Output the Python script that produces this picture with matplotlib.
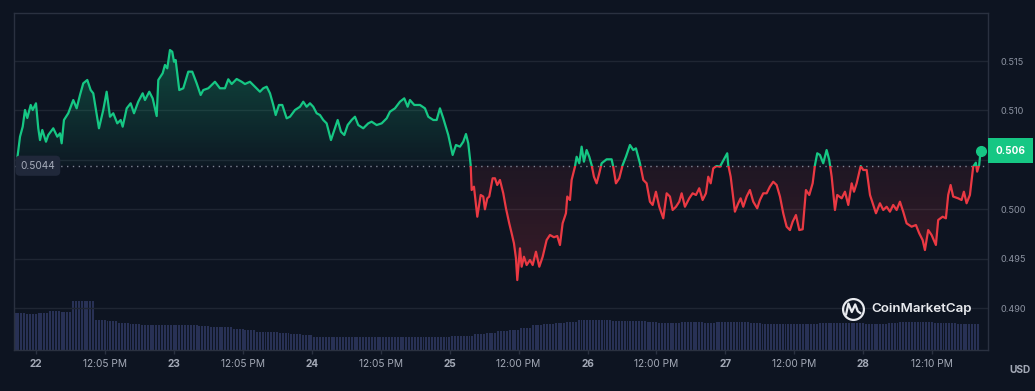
import matplotlib
matplotlib.use("Agg")
import matplotlib.pyplot as plt
import numpy as np
from matplotlib.patches import PathPatch, Rectangle
from matplotlib.path import Path
from matplotlib.colors import LinearSegmentedColormap

plt.rcParams['font.family'] = ['Inter', 'DejaVu Sans']

# hours since day 22 00:00
hours = [-3.25, -2.78, -2.31, -1.91, -1.51, -0.92, -0.57, 0.0, 0.40, 0.70, 1.10, 1.74, 2.14, 3.01, 3.71,
         4.18, 4.47, 4.87, 5.62, 6.49, 7.08, 7.66, 8.23, 8.93, 9.52, 9.97, 10.44, 10.96, 11.71, 12.30,
         12.88, 13.45, 14.15, 14.74, 15.09, 15.79, 16.48, 17.06, 17.80, 18.57, 18.97, 19.72, 20.31, 21.01,
         21.29, 22.05, 22.45, 22.85, 23.32, 23.72, 24.02, 24.31, 24.94, 25.64, 26.51, 27.20, 27.97, 28.66,
         29.12, 29.99, 30.28, 31.15, 32.02, 32.89, 33.47, 34.06, 34.93, 35.80, 36.37, 37.24, 38.11, 38.98,
         39.56, 40.15, 40.73, 41.30, 41.72, 42.29, 42.87, 43.63, 44.21, 45.08, 45.95, 46.52, 47.11, 47.69,
         48.26, 48.85, 49.43, 50.00, 50.59, 51.34, 51.92, 52.51, 53.08, 53.66, 54.25, 54.94, 55.52, 56.09,
         56.96, 57.83, 58.42, 59.29, 60.17, 61.04, 61.61, 62.48, 63.35, 64.10, 64.69, 65.09, 65.84, 66.83,
         67.70, 68.28, 69.15, 69.74, 70.31, 70.89, 71.76, 72.52, 73.10, 73.79, 74.37, 74.84, 75.24, 75.66,
         75.83, 76.23, 76.81, 77.40, 77.85, 78.14, 78.55, 78.89, 79.48, 79.88, 80.28, 80.75, 81.33, 81.80,
         82.37, 82.79, 83.19, 83.54, 83.77, 84.24, 84.53, 84.93, 85.40, 85.98, 86.45, 87.02, 87.60, 88.19,
         88.88, 89.46, 90.15, 90.73, 91.20, 91.66, 92.24, 92.47, 92.94, 93.23, 93.81, 94.10, 94.56, 94.97,
         95.37, 95.84, 96.30, 96.71, 97.11, 97.58, 98.04, 98.45, 99.32, 100.19, 100.47, 100.94, 101.52,
         102.11, 102.68, 103.38, 103.95, 104.42, 105.12, 105.70, 106.28, 106.86, 107.33, 107.90, 108.48,
         109.18, 109.77, 110.34, 110.81, 111.39, 111.96, 112.38, 112.95, 113.70, 114.29, 114.87, 115.44,
         116.03, 116.61, 117.01, 117.43, 117.88, 118.47, 119.04, 119.51, 120.31, 120.49, 120.91, 121.65,
         122.23, 122.64, 123.10, 123.69, 124.26, 124.84, 125.53, 126.00, 126.58, 127.17, 127.74, 128.32,
         128.91, 129.49, 130.06, 130.65, 131.23, 131.70, 132.27, 132.85, 133.44, 134.01, 134.59, 135.18,
         135.58, 135.98, 136.45, 137.02, 137.61, 138.07, 138.49, 139.06, 139.46, 140.23, 140.80, 141.38,
         141.97, 142.37, 142.84, 143.54, 143.99, 144.58, 145.16, 145.73, 146.20, 146.89, 147.47, 148.06,
         148.63, 149.20, 149.79, 150.37, 150.94, 151.53, 152.40, 153.15, 153.73, 154.32, 154.72, 155.29,
         155.88, 156.63, 157.03, 157.80, 158.37, 158.77, 159.19, 159.64, 160.51, 161.10, 161.50, 161.97,
         162.55, 163.12, 163.58, 163.81, 164.16, 164.41]

price = [0.50515, 0.50734, 0.50835, 0.51004, 0.50923, 0.51055, 0.51004, 0.51072, 0.50819, 0.50700, 0.50802,
         0.50683, 0.50751, 0.50819, 0.50734, 0.50768, 0.50667, 0.50903, 0.50971, 0.51105, 0.51021, 0.51156,
         0.51274, 0.51308, 0.51206, 0.51173, 0.51004, 0.50819, 0.51004, 0.51189, 0.50936, 0.50971, 0.50869,
         0.50903, 0.50835, 0.51021, 0.51072, 0.50971, 0.51088, 0.51173, 0.51105, 0.51189, 0.51122, 0.50943,
         0.51308, 0.51376, 0.51460, 0.51426, 0.51611, 0.51594, 0.51493, 0.51510, 0.51206, 0.51224, 0.51392,
         0.51392, 0.51274, 0.51156, 0.51206, 0.51224, 0.51240, 0.51290, 0.51224, 0.51224, 0.51315, 0.51267,
         0.51318, 0.51290, 0.51267, 0.51290, 0.51240, 0.51189, 0.51224, 0.51240, 0.51173, 0.51055, 0.50953,
         0.51055, 0.51055, 0.50920, 0.50936, 0.51004, 0.51037, 0.51088, 0.51037, 0.51072, 0.51037, 0.50971,
         0.50953, 0.50903, 0.50869, 0.50700, 0.50802, 0.50903, 0.50784, 0.50751, 0.50852, 0.50903, 0.50936,
         0.50852, 0.50819, 0.50869, 0.50886, 0.50852, 0.50869, 0.50920, 0.50987, 0.51021, 0.51088, 0.51122,
         0.51037, 0.51105, 0.51055, 0.51055, 0.51021, 0.50936, 0.50903, 0.50903, 0.51021, 0.50920, 0.50751,
         0.50549, 0.50650, 0.50633, 0.50683, 0.50761, 0.50667, 0.50447, 0.50194, 0.50228, 0.49924, 0.50144,
         0.50128, 0.49999, 0.50110, 0.50128, 0.50313, 0.50313, 0.50245, 0.50296, 0.50161, 0.50009, 0.49857,
         0.49756, 0.49655, 0.49503, 0.49283, 0.49604, 0.49418, 0.49519, 0.49435, 0.49486, 0.49435, 0.49570,
         0.49418, 0.49519, 0.49688, 0.49739, 0.49716, 0.49729, 0.49638, 0.49857, 0.49959, 0.50128, 0.50093,
         0.50296, 0.50430, 0.50531, 0.50465, 0.50633, 0.50481, 0.50599, 0.50531, 0.50447, 0.50329, 0.50262,
         0.50363, 0.50465, 0.50505, 0.50505, 0.50430, 0.50262, 0.50313, 0.50447, 0.50531, 0.50650, 0.50599,
         0.50616, 0.50465, 0.50296, 0.50262, 0.50076, 0.50043, 0.50177, 0.50025, 0.49908, 0.50161, 0.50128,
         0.49992, 0.50025, 0.50076, 0.50161, 0.50025, 0.50110, 0.50161, 0.50144, 0.50212, 0.50093, 0.50161,
         0.50329, 0.50262, 0.50414, 0.50437, 0.50430, 0.50481, 0.50566, 0.50447, 0.50329, 0.49975, 0.50060,
         0.50110, 0.50025, 0.50128, 0.50194, 0.50076, 0.50009, 0.50093, 0.50161, 0.50161, 0.50228, 0.50278,
         0.50245, 0.50128, 0.49959, 0.49823, 0.49789, 0.49873, 0.49941, 0.49789, 0.49797, 0.50194, 0.50144,
         0.50262, 0.50447, 0.50566, 0.50549, 0.50465, 0.50599, 0.50498, 0.50329, 0.49992, 0.50144, 0.50110,
         0.50177, 0.50043, 0.50262, 0.50177, 0.50262, 0.50437, 0.50397, 0.50397, 0.50144, 0.50043, 0.49959,
         0.50060, 0.49992, 0.50025, 0.49975, 0.50043, 0.49992, 0.50076, 0.49975, 0.49857, 0.49823, 0.49840,
         0.49756, 0.49688, 0.49587, 0.49789, 0.49739, 0.49638, 0.49891, 0.49924, 0.49908, 0.50144, 0.50245,
         0.50128, 0.50110, 0.50093, 0.50177, 0.50060, 0.50144, 0.50430, 0.50471, 0.50380, 0.50447, 0.50592]

baseline = 0.5044

# volume, 2-hour buckets starting at vol_start (relative units)
vol_start = -3.8
vol = [36.6, 35.5, 36.0, 38.0, 37.5, 48.6, 48.0, 29.3, 28.5, 26.5, 25.0, 24.3, 24.3, 24.3, 24.3, 24.3,
       23.5, 22.6, 22.6, 20.3, 19.5, 17.8, 17.3, 16.5, 15.5, 14.3, 12.5, 12.3, 12.3, 12.3, 12.3, 12.3,
       12.3, 12.3, 12.3, 12.3, 12.3, 12.3, 13.3, 13.5, 15.5, 16.5, 18.5, 20.0, 22.0, 24.5, 25.5, 26.0,
       27.5, 29.3, 29.5, 29.0, 28.5, 28.3, 28.5, 27.5, 26.8, 26.8, 27.0, 27.0, 26.5, 27.3, 27.3, 27.0,
       26.8, 25.5, 25.3, 25.3, 25.3, 25.3, 26.0, 26.5, 26.3, 26.0, 25.5, 25.5, 26.0, 27.0, 27.3, 27.0,
       26.5, 26.0, 25.6, 25.6]

tick_hours = [0, 12, 24, 36, 48, 60, 72, 84, 96, 108, 120, 132, 144, 156]
tick_labels = ['22', '12:05 PM', '23', '12:05 PM', '24', '12:05 PM', '25', '12:00 PM',
               '26', '12:00 PM', '27', '12:00 PM', '28', '12:10 PM']
y_ticks = [0.490, 0.495, 0.500, 0.505, 0.510, 0.515]

BG = '#0d1421'
GREEN = '#16c784'
RED = '#ea3943'
GRID = '#1f2633'
SPINE = '#2a3140'
TXT = '#8c93a1'

t = np.array(hours)
p = np.array(price)

fig = plt.figure(figsize=(10.35, 3.91), dpi=100, facecolor=BG)
rect = [0.0135, 0.1061, 0.9411, 0.8607]
axv = fig.add_axes(rect, facecolor=BG)
ax = fig.add_axes(rect, sharex=axv)
ax.patch.set_visible(False)

xmin, xmax = -3.83, 165.7
ymin, ymax = 0.4858, 0.51986

# volume bars: each 2h bucket drawn as 4 thin bars
vt = []
vh = []
for i, v in enumerate(vol):
    for k in range(4):
        vt.append(vol_start + 2 * i + 0.5 * k + 0.25)
        vh.append(v)
axv.bar(vt, vh, width=0.34, color='#283155', linewidth=0)
axv.set_ylim(0, max(vol) * 6.92)
axv.set_yticks([])
for s in axv.spines.values():
    s.set_visible(False)
axv.tick_params(axis='x', which='both', bottom=False, labelbottom=False)

# gradient fills
green_cmap = LinearSegmentedColormap.from_list('g', [(0.086, 0.78, 0.52, 0.03), (0.086, 0.78, 0.52, 0.30)])
red_cmap = LinearSegmentedColormap.from_list('r', [(0.92, 0.22, 0.26, 0.20), (0.92, 0.22, 0.26, 0.08)])
grad = np.linspace(0, 1, 256).reshape(-1, 1)

top = p.max()
coll = ax.fill_between(t, np.maximum(p, baseline), baseline, facecolor='none', edgecolor='none')
im = ax.imshow(grad, cmap=green_cmap, aspect='auto', origin='lower',
               extent=[t[0], t[-1], baseline, top], zorder=1)
patch = PathPatch(coll.get_paths()[0], transform=ax.transData, facecolor='none', edgecolor='none')
ax.add_patch(patch)
im.set_clip_path(patch)

bot = p.min()
coll2 = ax.fill_between(t, np.minimum(p, baseline), baseline, facecolor='none', edgecolor='none')
im2 = ax.imshow(grad, cmap=red_cmap, aspect='auto', origin='lower',
                extent=[t[0], t[-1], bot, baseline], zorder=1)
patch2 = PathPatch(coll2.get_paths()[0], transform=ax.transData, facecolor='none', edgecolor='none')
ax.add_patch(patch2)
im2.set_clip_path(patch2)

# price line split at baseline
lg, = ax.plot(t, p, color=GREEN, lw=1.6, zorder=3, solid_joinstyle='round')
lr, = ax.plot(t, p, color=RED, lw=1.6, zorder=3, solid_joinstyle='round')
up = Rectangle((xmin, baseline), xmax - xmin, 1, transform=ax.transData)
dn = Rectangle((xmin, baseline - 1), xmax - xmin, 1, transform=ax.transData)
lg.set_clip_path(up)
lr.set_clip_path(dn)

ax.plot(t[-1], p[-1], 'o', color=GREEN, ms=7, zorder=4)

ax.axhline(baseline, color='#7d8493', lw=1.0, ls=(0, (1, 3.2)), zorder=2)

ax.set_xlim(xmin, xmax)
ax.set_ylim(ymin, ymax)
ax.set_yticks(y_ticks)
ax.set_yticklabels(['%.3f' % v for v in y_ticks])
ax.yaxis.tick_right()
ax.grid(axis='y', color=GRID, lw=1.0, zorder=0)
ax.set_axisbelow(True)
ax.tick_params(axis='y', length=0, pad=9, labelsize=6.6, labelcolor=TXT)
ax.set_xticks(tick_hours)
ax.set_xticklabels(tick_labels)
ax.tick_params(axis='x', length=3, width=1, color=SPINE, pad=4, labelsize=7.3, labelcolor='#a3a9b6')
for lbl, txt in zip(ax.get_xticklabels(), tick_labels):
    if ':' not in txt:
        lbl.set_fontweight('bold')
for s in ax.spines.values():
    s.set_color(SPINE)
    s.set_linewidth(1.0)

# baseline label on the left
ax.text(0.0245, baseline, '0.5044', transform=ax.get_yaxis_transform(), ha='center', va='center',
        fontsize=7.3, color='#a7adbb', zorder=6,
        bbox=dict(boxstyle='round,pad=0.5,rounding_size=0.45', fc='#20283a', ec='none'))

# current price label on the right
ax.text(1.0226, p[-1], '%.3f' % p[-1], transform=ax.get_yaxis_transform(), ha='center', va='center',
        fontsize=7.2, color='white', fontweight='bold', zorder=6, clip_on=False,
        bbox=dict(boxstyle='square,pad=0.75', fc=GREEN, ec='none'))

# watermark
logo = Path([(-0.45, -0.35), (-0.3, 0.35), (-0.1, -0.15), (0.1, 0.3), (0.25, -0.1), (0.45, -0.25)])
ax.plot(0.8614, 0.1204, marker='o', ms=15, mfc='none', mec='#e8eaee', mew=1.6,
        transform=ax.transAxes, zorder=6)
ax.plot(0.8614, 0.1204, marker=logo, ms=11, mfc='none', mec='#e8eaee', mew=1.6,
        transform=ax.transAxes, zorder=6)
ax.text(0.8805, 0.1204, 'CoinMarketCap', transform=ax.transAxes, ha='left', va='center',
        fontsize=9.6, color='#e8eaee', fontweight='semibold', zorder=6)

fig.text(0.9855, 1 - 370 / 391, 'USD', ha='center', va='center', fontsize=7.3,
         color='#a3a9b6', fontweight='bold')

fig.savefig('out.png', dpi=100, facecolor=BG)
